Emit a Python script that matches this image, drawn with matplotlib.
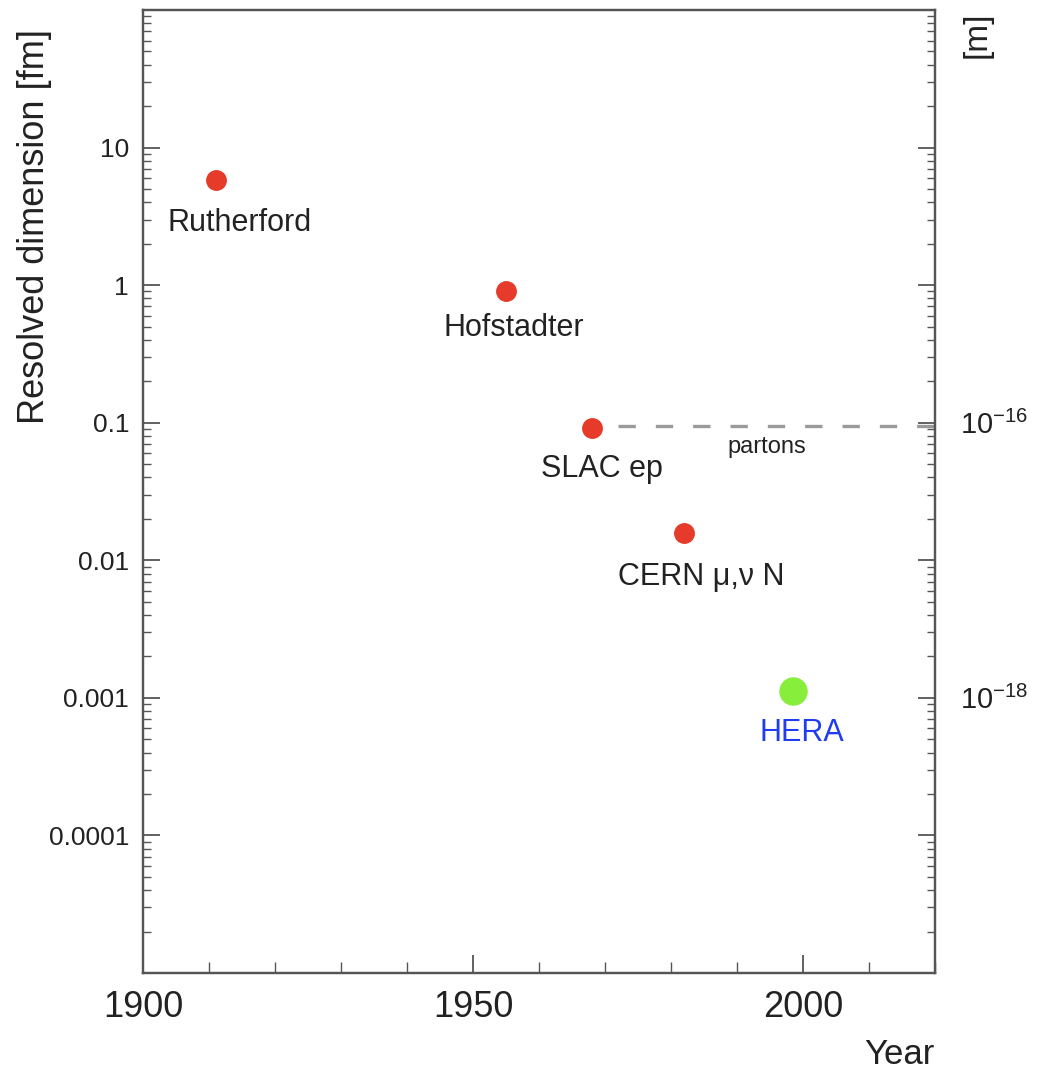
import matplotlib
matplotlib.use("Agg")
import matplotlib.pyplot as plt
from matplotlib.ticker import LogLocator, FuncFormatter, MultipleLocator, NullFormatter
import numpy as np

plt.rcParams['font.family'] = ['Liberation Sans', 'DejaVu Sans']
plt.rcParams['mathtext.fontset'] = 'custom'
plt.rcParams['mathtext.rm'] = 'Liberation Sans'
plt.rcParams['mathtext.it'] = 'Liberation Sans'

# ---- data ----
experiments = ["Rutherford", "Hofstadter", "SLAC ep", "CERN μ,ν N", "HERA"]
years = [1911, 1955, 1968, 1982, 1998.5]
dimension_fm = [5.8, 0.9, 0.091, 0.0157, 0.00113]
point_colors = ["#e63a2a", "#e63a2a", "#e63a2a", "#e63a2a", "#88ee3c"]
label_colors = ["#222222", "#222222", "#222222", "#222222", "#1f3cf0"]

partons_years = [1972, 2020]
partons_level = [0.095, 0.095]

x_ticks = [1900, 1950, 2000]
y_ticks = [1e-4, 1e-3, 1e-2, 1e-1, 1, 10]
y_tick_labels = ["0.0001", "0.001", "0.01", "0.1", "1", "10"]
right_labelled = {-16: r"$10^{\mathregular{-16}}$", -18: r"$10^{\mathregular{-18}}$"}

# ---- figure ----
W, H = 1038, 1069
fig = plt.figure(figsize=(W / 100, H / 100), dpi=100)
L, R, B, T = 143, 935, 973, 10
ax = fig.add_axes([L / W, 1 - B / H, (R - L) / W, (B - T) / H])
ax2 = ax.twinx()

axis_col = "#555555"
text_col = "#222222"

ax.set_yscale("log")
ax.set_xlim(1900, 2020)
ax.set_ylim(1e-5, 100)

# points
msizes = [14, 14, 14, 14, 19.5]
for x, y, c, ms in zip(years, dimension_fm, point_colors, msizes):
    ax.plot([x], [y], marker="o", ms=ms, color=c, mec=c, ls="none", zorder=3)

# labels (offsets in pixels converted to points)
offsets_px = [(23.5, -51), (8, -45), (10.5, -49), (17.5, -52), (9, -50)]
for name, x, y, lc, (dx, dy) in zip(experiments, years, dimension_fm, label_colors, offsets_px):
    ax.annotate(name, (x, y), xytext=(dx * 0.72, dy * 0.72), textcoords="offset points",
                ha="center", va="baseline", fontsize=22, color=lc)

# partons line
ax.plot(partons_years, partons_level, color="#9a9a9a", lw=2.4, dashes=(5.2, 6.0),
        solid_capstyle="butt", dash_capstyle="butt", zorder=2)
ax.annotate("partons", (1994.5, partons_level[0]), xytext=(0, -27 * 0.72),
            textcoords="offset points", ha="center", va="baseline", fontsize=17, color=text_col)

# x axis
ax.set_xticks(x_ticks)
ax.set_xticklabels([str(v) for v in x_ticks])
ax.xaxis.set_minor_locator(MultipleLocator(10))
ax.tick_params(axis="x", which="major", direction="in", length=13, width=1.3, color=axis_col,
               labelsize=26, pad=12, labelcolor=text_col, top=False)
ax.tick_params(axis="x", which="minor", direction="in", length=8, width=1.0, color=axis_col, top=False)

# left y axis
ax.set_yticks(y_ticks)
ax.set_yticklabels(y_tick_labels)
ax.yaxis.set_minor_locator(LogLocator(base=10, subs=np.arange(2, 10), numticks=20))
ax.yaxis.set_minor_formatter(NullFormatter())
ax.tick_params(axis="y", which="major", direction="in", length=12, width=1.3, color=axis_col,
               labelsize=19, pad=10, labelcolor=text_col, right=False, left=True)
ax.tick_params(axis="y", which="minor", direction="in", length=6, width=1.0, color=axis_col,
               right=False, left=True)

for s in ax.spines.values():
    s.set_color(axis_col)
    s.set_linewidth(1.6)

# right axis in metres
ax2.set_yscale("log")
ax2.set_ylim(1e-5 * 1e-15, 100 * 1e-15)
ax2.yaxis.set_major_locator(LogLocator(base=10, numticks=30))
ax2.yaxis.set_minor_locator(LogLocator(base=10, subs=np.arange(2, 10), numticks=30))
ax2.yaxis.set_minor_formatter(NullFormatter())
ax2.yaxis.set_major_formatter(FuncFormatter(
    lambda v, p: right_labelled.get(int(round(np.log10(v))), "")))
ax2.tick_params(axis="y", which="major", direction="in", length=12, width=1.3, color=axis_col,
                labelsize=21, pad=18, labelcolor=text_col, left=False, right=True)
ax2.tick_params(axis="y", which="minor", direction="in", length=6, width=1.0, color=axis_col,
                left=False, right=True)
for s in ax2.spines.values():
    s.set_color(axis_col)
    s.set_linewidth(1.6)

# axis titles
fig.text(35 / W, 1 - 226 / H, "Resolved dimension [fm]", rotation=90, ha="center", va="center",
         fontsize=26, color=text_col)
fig.text(R / W, 1 - 1054 / H, "Year", ha="right", va="center", fontsize=25, color=text_col)
fig.text(977 / W, 1 - 12 / H, "[m]", rotation=90, ha="center", va="top", fontsize=24, color=text_col)

fig.savefig("out.png", dpi=100)
